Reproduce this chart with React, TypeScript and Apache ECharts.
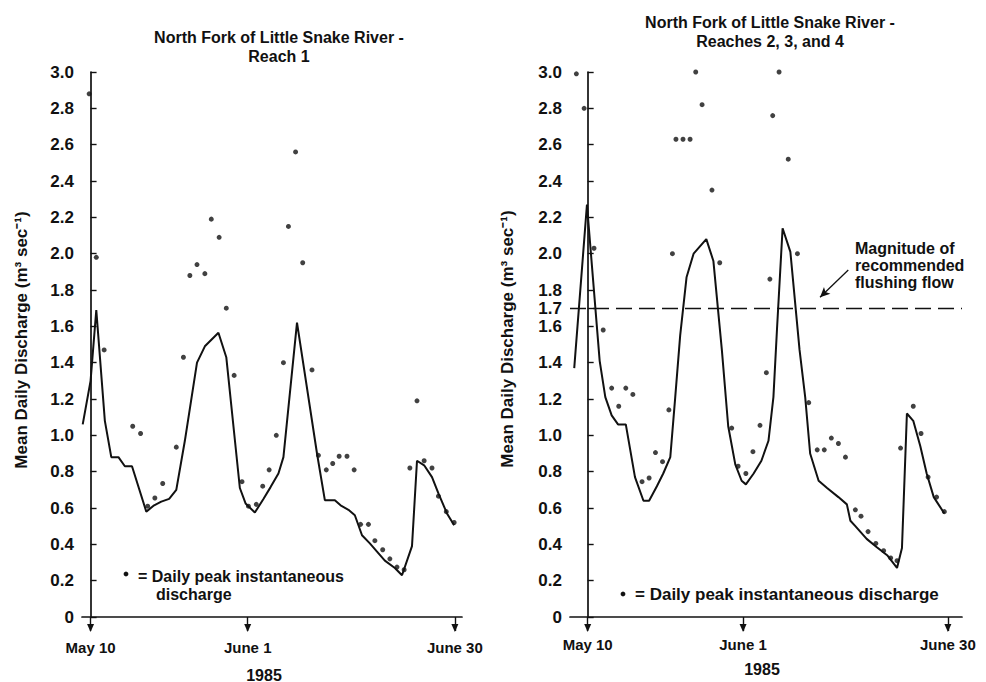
import React, { useEffect, useRef } from "react";
import * as echarts from "echarts";

// ---- data (x = days after May 10, 1985; y = discharge m3/s) ----
const xTickDays = [0, 22, 51];
const xTickLabels = ["May 10", "June 1", "June 30"];
const leftYTicks = [0, 0.2, 0.4, 0.6, 0.8, 1.0, 1.2, 1.4, 1.6, 1.8, 2.0, 2.2, 2.4, 2.6, 2.8, 3.0];
const rightYTicks = [0, 0.2, 0.4, 0.6, 0.8, 1.0, 1.2, 1.4, 1.6, 1.7, 1.8, 2.0, 2.2, 2.4, 2.6, 2.8, 3.0];
const flushingFlow = 1.7;

const reach1Mean: number[][] = [
  [-1.1, 1.06], [0, 1.3], [0.8, 1.69], [2.0, 1.08], [2.9, 0.88], [3.9, 0.88], [4.8, 0.83], [5.8, 0.83],
  [7.8, 0.58], [8.9, 0.615], [9.9, 0.635], [11.0, 0.65], [12.0, 0.7], [13.2, 0.97], [14.9, 1.4],
  [16.0, 1.49], [17.9, 1.565], [19.0, 1.43], [20.9, 0.71], [21.7, 0.625], [23.0, 0.575], [24.2, 0.65],
  [25.2, 0.715], [26.3, 0.79], [27.0, 0.88], [28.9, 1.62], [31.7, 0.9], [32.8, 0.643], [34.2, 0.643],
  [35.0, 0.615], [36.1, 0.59], [37.0, 0.56], [38.0, 0.45], [39.1, 0.405], [40.1, 0.36], [41.2, 0.31],
  [42.6, 0.27], [43.6, 0.23], [45.0, 0.39], [45.7, 0.86], [46.7, 0.835], [47.8, 0.77], [48.7, 0.68],
  [49.9, 0.57], [50.9, 0.505],
];
const reach1Peak: number[][] = [
  [-0.2, 2.88], [0.8, 1.98], [1.9, 1.47], [5.9, 1.05], [7.0, 1.01], [8.0, 0.61], [9.0, 0.655], [10.1, 0.735],
  [12.0, 0.935], [13.0, 1.43], [13.9, 1.88], [14.9, 1.94], [16.0, 1.89], [16.9, 2.19], [18.0, 2.09],
  [19.0, 1.7], [20.1, 1.33], [21.2, 0.745], [22.1, 0.61], [23.2, 0.62], [24.1, 0.72], [25.0, 0.81],
  [26.0, 1.0], [27.0, 1.4], [27.7, 2.15], [28.7, 2.56], [29.7, 1.95], [31.0, 1.36], [31.9, 0.89],
  [33.0, 0.81], [33.9, 0.845], [34.8, 0.885], [35.9, 0.885], [36.9, 0.81], [37.8, 0.51], [38.9, 0.51],
  [39.8, 0.42], [40.9, 0.37], [41.9, 0.32], [42.9, 0.275], [43.9, 0.26], [44.7, 0.82], [45.7, 1.19],
  [46.7, 0.86], [47.8, 0.82], [48.7, 0.665], [49.8, 0.58], [50.9, 0.52],
];
const reach234Mean: number[][] = [
  [-1.9, 1.37], [-0.1, 2.27], [1.7, 1.41], [2.5, 1.21], [3.4, 1.11], [4.3, 1.06], [5.4, 1.06], [6.7, 0.77],
  [7.9, 0.64], [8.7, 0.64], [9.8, 0.72], [10.7, 0.79], [11.7, 0.88], [12.4, 1.21], [13.1, 1.55],
  [14.0, 1.87], [15.0, 2.0], [16.8, 2.08], [17.8, 1.96], [19.0, 1.47], [19.9, 1.05], [20.9, 0.84],
  [21.8, 0.75], [22.4, 0.73], [23.5, 0.79], [24.6, 0.86], [25.6, 0.97], [26.3, 1.21], [26.8, 1.58],
  [27.6, 2.14], [28.7, 2.01], [30.0, 1.47], [30.8, 1.21], [31.5, 0.9], [32.7, 0.75], [33.9, 0.71],
  [35.5, 0.66], [36.7, 0.62], [37.2, 0.53], [37.9, 0.5], [39.5, 0.43], [40.9, 0.385], [42.4, 0.34],
  [43.8, 0.27], [44.5, 0.38], [45.2, 1.12], [46.1, 1.08], [47.1, 0.94], [48.0, 0.79], [49.0, 0.66],
  [50.5, 0.57],
];
const reach234Peak: number[][] = [
  [-1.6, 2.99], [-0.5, 2.8], [0.9, 2.03], [2.2, 1.58], [3.4, 1.26], [4.4, 1.16], [5.4, 1.26], [6.4, 1.225],
  [7.7, 0.745], [8.7, 0.765], [9.6, 0.905], [10.6, 0.855], [11.5, 1.14], [12.0, 2.0], [12.5, 2.63],
  [13.5, 2.63], [14.5, 2.63], [15.3, 3.0], [16.2, 2.82], [17.6, 2.35], [18.7, 1.95], [20.4, 1.04],
  [21.3, 0.83], [22.4, 0.79], [23.4, 0.91], [24.4, 1.055], [25.3, 1.345], [25.8, 1.86], [26.2, 2.76],
  [27.1, 3.0], [28.4, 2.52], [29.7, 2.0], [31.3, 1.18], [32.5, 0.92], [33.5, 0.92], [34.5, 0.985],
  [35.5, 0.955], [36.5, 0.88], [37.9, 0.59], [38.7, 0.555], [39.7, 0.47], [40.8, 0.405], [41.9, 0.365],
  [42.9, 0.325], [43.8, 0.31], [44.3, 0.93], [46.1, 1.16], [47.2, 1.01], [48.2, 0.77], [49.4, 0.66],
  [50.5, 0.58],
];
const annotationArrow: number[][] = [[36.9, 1.91], [32.9, 1.76]];

const FONT = '"Liberation Sans", Arial, Helvetica, sans-serif';
const INK = "#111";

function xAxisCfg(gridIndex: number, min: number, max: number, margin: number) {
  return {
    type: "value",
    gridIndex,
    min,
    max,
    splitLine: { show: false },
    axisLine: { show: true, onZero: false, lineStyle: { color: INK, width: 1.7 } },
    axisTick: { show: true, customValues: xTickDays, length: 14, inside: false, lineStyle: { color: INK, width: 1.4 } },
    axisLabel: {
      show: true,
      customValues: xTickDays,
      margin,
      color: INK,
      fontFamily: FONT,
      fontWeight: "bold",
      fontSize: 15,
      formatter: (v: number) => {
        const i = xTickDays.indexOf(Math.round(v));
        return i >= 0 ? xTickLabels[i] : "";
      },
    },
  };
}

function yAxisCfg(gridIndex: number, ticks: number[]) {
  return {
    type: "value",
    gridIndex,
    min: 0,
    max: 3,
    splitLine: { show: false },
    axisLine: { show: true, lineStyle: { color: INK, width: 1.7 } },
    axisTick: { show: true, customValues: ticks, inside: true, length: 6, lineStyle: { color: INK, width: 1.4 } },
    axisLabel: {
      show: true,
      customValues: ticks,
      margin: 8,
      color: INK,
      fontFamily: FONT,
      fontWeight: "bold",
      fontSize: 17,
      formatter: (v: number) => (Math.abs(v) < 1e-9 ? "0" : v.toFixed(1)),
    },
  };
}

function arrowHeads() {
  return {
    symbol: "triangle",
    symbolRotate: 180,
    symbolSize: [7, 8],
    symbolOffset: [0, 11],
    label: { show: false },
    itemStyle: { color: INK },
    data: xTickDays.map((d) => ({ coord: [d, 0] })),
  };
}

const txt = (x: number, y: number, text: string, size: number, align = "center", rotation = 0) => ({
  type: "text",
  x,
  y,
  rotation,
  style: {
    text,
    fill: INK,
    font: `bold ${size}px ${FONT}`,
    align,
    verticalAlign: "middle",
  },
});

export default function App() {
  const ref = useRef<HTMLDivElement>(null);
  useEffect(() => {
    if (!ref.current) return;
    const chart = echarts.init(ref.current, null, { renderer: "svg" });
    const option: any = {
      animation: false,
      backgroundColor: "#fff",
      grid: [
        { left: 82, top: 72, width: 380, height: 545, containLabel: false, outerBoundsMode: "none" },
        { left: 570, top: 72, width: 392, height: 545, containLabel: false, outerBoundsMode: "none" },
      ],
      xAxis: [xAxisCfg(0, -1.2, 52, 23), xAxisCfg(1, -2.5, 53, 20)],
      yAxis: [yAxisCfg(0, leftYTicks), yAxisCfg(1, rightYTicks)],
      series: [
        {
          type: "line",
          xAxisIndex: 0,
          yAxisIndex: 0,
          data: reach1Mean,
          showSymbol: false,
          lineStyle: { color: INK, width: 2 },
          markPoint: arrowHeads(),
        },
        {
          type: "scatter",
          xAxisIndex: 0,
          yAxisIndex: 0,
          data: reach1Peak,
          symbolSize: 5,
          clip: false,
          itemStyle: { color: INK },
        },
        {
          type: "line",
          xAxisIndex: 1,
          yAxisIndex: 1,
          data: reach234Mean,
          showSymbol: false,
          lineStyle: { color: INK, width: 2 },
          markPoint: arrowHeads(),
          markLine: {
            silent: true,
            label: { show: false },
            data: [
              [
                { coord: [-2.5, flushingFlow], symbol: "none", lineStyle: { type: [16, 7], width: 1.4, color: INK } },
                { coord: [53, flushingFlow], symbol: "none" },
              ],
              [
                { coord: annotationArrow[0], symbol: "none", lineStyle: { type: "solid", width: 1.3, color: INK } },
                { coord: annotationArrow[1], symbol: "arrow", symbolSize: [7, 10] },
              ],
            ],
          },
        },
        {
          type: "scatter",
          xAxisIndex: 1,
          yAxisIndex: 1,
          data: reach234Peak,
          symbolSize: 5,
          clip: false,
          itemStyle: { color: INK },
        },
      ],
      graphic: [
        txt(279, 37, "North Fork of Little Snake River -", 16),
        txt(279, 56, "Reach 1", 16),
        txt(770, 22, "North Fork of Little Snake River -", 16),
        txt(770, 41, "Reaches 2, 3, and 4", 16),
        txt(21, 340, "Mean Daily Discharge (m\u00B3 sec\u207B\u00B9)", 17, "center", Math.PI / 2),
        txt(507, 339, "Mean Daily Discharge (m\u00B3 sec\u207B\u00B9)", 17, "center", Math.PI / 2),
        txt(264, 675, "1985", 16),
        txt(762, 669, "1985", 16),
        txt(855, 248, "Magnitude of", 16, "left"),
        txt(855, 265, "recommended", 16, "left"),
        txt(855, 282, "flushing flow", 16, "left"),
        { type: "circle", shape: { cx: 126, cy: 574, r: 2.4 }, style: { fill: INK } },
        txt(138, 576, "= Daily peak instantaneous", 16, "left"),
        txt(156, 594, "discharge", 16, "left"),
        { type: "circle", shape: { cx: 623, cy: 594, r: 2.4 }, style: { fill: INK } },
        txt(635, 594, "= Daily peak instantaneous discharge", 17, "left"),
      ],
    };
    chart.setOption(option);
    return () => chart.dispose();
  }, []);
  return (
    <div
      ref={ref}
      style={{ position: "fixed", left: 0, top: 0, width: 986, height: 682, background: "#fff" }}
    />
  );
}
